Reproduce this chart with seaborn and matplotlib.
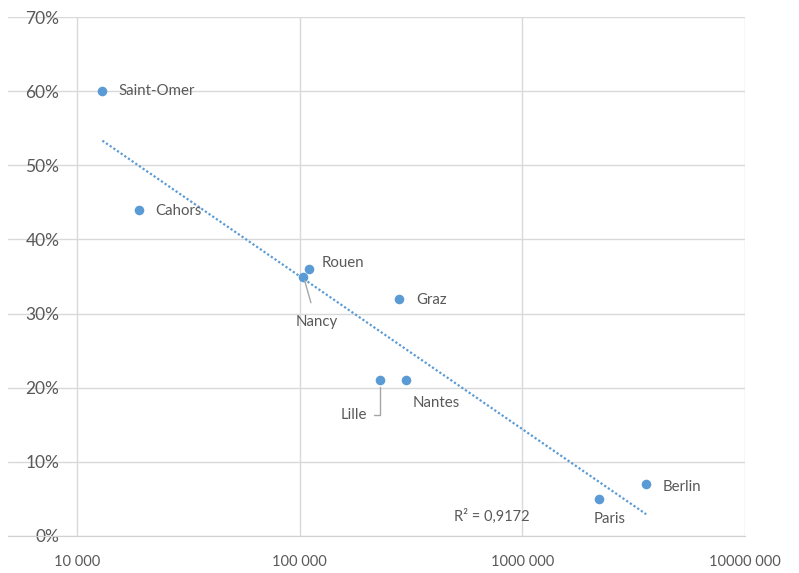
import numpy as np
import pandas as pd
import matplotlib
matplotlib.use("Agg")
import matplotlib.pyplot as plt
import matplotlib.ticker as mticker
import seaborn as sns

villes = ["Saint-Omer", "Cahors", "Rouen", "Nancy", "Graz", "Lille", "Nantes", "Paris", "Berlin"]
population = [13000, 19000, 110000, 104000, 280000, 230000, 300000, 2200000, 3600000]
part = [0.60, 0.44, 0.36, 0.35, 0.32, 0.21, 0.21, 0.05, 0.07]

df = pd.DataFrame({"ville": villes, "population": population, "part": part})

bleu = "#5B9BD5"
gris = "#595959"

sns.set_style("white")
plt.rcParams["font.family"] = ["Lato", "DejaVu Sans"]

fig = plt.figure(figsize=(7.99, 5.73), dpi=100)
ax = fig.add_axes([0.010, 0.0646, 0.9224, 0.9057])

# courbe de tendance logarithmique
sns.regplot(data=df, x="population", y="part", logx=True, ci=None, scatter=False,
            line_kws={"color": bleu, "lw": 1.6, "linestyle": (0, (1, 1))}, ax=ax)
sns.scatterplot(data=df, x="population", y="part", color=bleu, s=48,
                edgecolor=bleu, linewidth=0, ax=ax, zorder=3)

ax.set_xscale("log")
ax.set_xlim(10 ** 3.69, 1e7)
ax.set_ylim(0, 0.70)

ax.set_xticks([1e4, 1e5, 1e6, 1e7])
ax.set_xticklabels(["10 000", "100 000", "1000 000", "10000 000"])
ax.xaxis.set_minor_locator(mticker.NullLocator())
ax.set_yticks(np.arange(0, 0.71, 0.1))
ax.yaxis.set_major_formatter(mticker.PercentFormatter(1.0, decimals=0))

ax.grid(True, color="#D9D9D9", lw=1)
ax.set_axisbelow(True)
for s in ["top", "right", "left"]:
    ax.spines[s].set_visible(False)
ax.spines["bottom"].set_color("#D0D0D0")
ax.tick_params(axis="x", length=0, pad=14, labelsize=10.5, labelcolor=gris)
ax.tick_params(axis="y", length=0, pad=-37, labelsize=12.5, labelcolor=gris)
ax.set_xlabel("")
ax.set_ylabel("")

# étiquettes
taille = 10.8
decalage = {
    "Saint-Omer": (11.5, 0),
    "Cahors": (11.5, -1),
    "Rouen": (9.4, 4.3),
    "Graz": (12, -1),
    "Nantes": (5, -16.6),
    "Paris": (-3.6, -14.4),
    "Berlin": (12, -2),
}
for v, x, y in zip(villes, population, part):
    if v in decalage:
        dx, dy = decalage[v]
        ax.annotate(v, (x, y), xytext=(dx, dy), textcoords="offset points",
                    ha="left", va="center", fontsize=taille, color=gris)

ax.annotate("Nancy", (104000, 0.35), xytext=(9.4, -33), textcoords="offset points",
            ha="center", va="center", fontsize=taille, color=gris,
            arrowprops=dict(arrowstyle="-", color="#A6A6A6", lw=1,
                            shrinkA=7, shrinkB=3))
ax.annotate("Lille", (230000, 0.21), xytext=(-18.7, -25), textcoords="offset points",
            ha="center", va="center", fontsize=taille, color=gris,
            arrowprops=dict(arrowstyle="-", color="#A6A6A6", lw=1,
                            connectionstyle="angle,angleA=0,angleB=90,rad=0",
                            shrinkA=2, shrinkB=5))

ax.text(0.657, 0.0385, "R² = 0,9172", transform=ax.transAxes, fontsize=10.5, color=gris,
        ha="center", va="center")

fig.savefig("out.png", dpi=100)
